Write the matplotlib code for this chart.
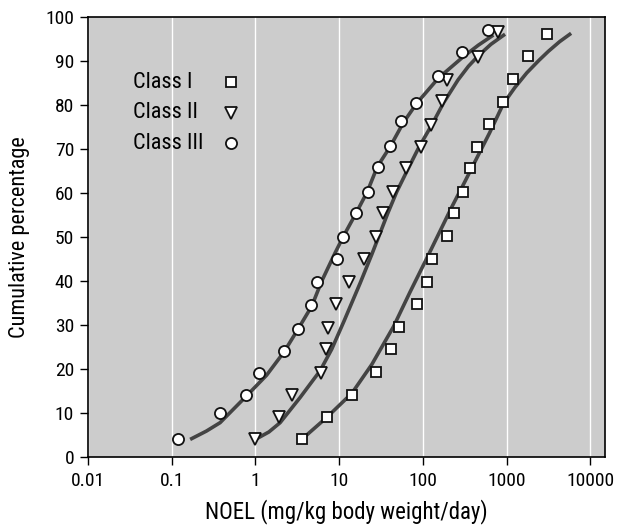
import matplotlib
matplotlib.use("Agg")
import matplotlib.pyplot as plt

plt.rcParams['font.family'] = ['Roboto Condensed', 'Liberation Sans Narrow', 'DejaVu Sans']
plt.rcParams['font.stretch'] = 'condensed'

# Observed NOEL values (mg/kg body weight/day) and cumulative percentages
class1_x = [3.63, 7.2, 14.1, 27.4, 41.7, 52, 86, 111, 130, 196, 236, 305, 366, 440, 624, 916, 1208, 1824, 3020]
class1_y = [4, 9, 14.2, 19.4, 24.5, 29.5, 34.7, 39.8, 45, 50.2, 55.4, 60.2, 65.6, 70.4, 75.6, 80.8, 86, 91.2, 96.1]

class2_x = [1.0, 1.91, 2.71, 6.0, 6.9, 7.4, 9.1, 13.0, 19.7, 27.4, 33.1, 44.5, 62.4, 95, 126, 168, 196, 460, 798]
class2_y = [4, 9.2, 14.2, 19, 24.5, 29.3, 34.7, 39.7, 45.1, 50.1, 55.4, 60.2, 65.6, 70.5, 75.5, 81, 85.8, 91, 96.7]

class3_x = [0.118, 0.38, 0.77, 1.11, 2.2, 3.2, 4.66, 5.5, 9.4, 11.2, 15.8, 22.1, 28.9, 40.6, 55.4, 83, 151, 297, 596]
class3_y = [4, 10, 14, 19, 24, 29, 34.5, 39.7, 45, 50, 55.4, 60.3, 66, 70.7, 76.4, 80.5, 86.6, 92, 97]

# Fitted cumulative distribution curves
fit1_x = [3.57, 7.11, 14.2, 24.5, 44.5, 70.3, 113, 160, 224, 316, 437, 624, 916, 1259, 1742, 2450, 3155, 4300, 5902]
fit1_y = [4.0, 9.0, 14.5, 21.0, 29.6, 37.5, 45.4, 51.3, 57.0, 62.5, 67.8, 73.6, 80.3, 84.0, 87.3, 90.2, 92.2, 94.4, 96.3]

fit2_x = [1.0, 1.45, 1.97, 3.41, 5.92, 8.15, 11.5, 17.8, 24.5, 38.1, 48.8, 64.6, 89.1, 128, 178, 263, 350, 460, 650, 959]
fit2_y = [4.0, 5.7, 7.8, 13.5, 19.6, 24.5, 31.0, 39.5, 46.0, 55.4, 60.3, 65.0, 70.3, 75.5, 80.6, 85.7, 88.8, 91.2, 93.8, 96.1]

fit3_x = [0.166, 0.26, 0.378, 0.766, 1.36, 2.2, 3.26, 4.71, 6.2, 8.9, 11.2, 15.9, 21.7, 28.6, 40.6, 58.5, 84.5, 153, 305, 460, 695]
fit3_y = [4.0, 5.9, 7.8, 13.7, 18.6, 23.9, 29.2, 34.3, 40.0, 46.3, 50.1, 55.4, 60.3, 66.0, 70.5, 76.0, 80.4, 86.1, 91.0, 93.6, 95.9]

labels = ["Class I", "Class II", "Class III"]
markers = ["s", "v", "o"]
x_ticks = [0.01, 0.1, 1, 10, 100, 1000, 10000]
x_tick_labels = ["0.01", "0.1", "1", "10", "100", "1000", "10000"]
y_ticks = list(range(0, 101, 10))

fig = plt.figure(figsize=(6.18, 5.27), dpi=100)
ax = fig.add_axes([0.1424, 0.1328, 0.8366, 0.8349])
ax.set_facecolor("#cccccc")

curve_kw = dict(color="#444444", lw=2.6, solid_capstyle="butt",
                solid_joinstyle="round", zorder=2)
ax.plot(fit1_x, fit1_y, **curve_kw)
ax.plot(fit2_x, fit2_y, **curve_kw)
ax.plot(fit3_x, fit3_y, **curve_kw)

mk_kw = dict(ls="none", mfc="white", mec="#111111", mew=1.3, zorder=3)
sizes = [7.5, 8, 8]
for xs, ys, m, s in zip([class1_x, class2_x, class3_x], [class1_y, class2_y, class3_y], markers, sizes):
    ax.plot(xs, ys, marker=m, ms=s, **mk_kw)

# Key: labels left-aligned, symbols in a column to their right
key_rows = [0.852, 0.7825, 0.7136]
for lab, m, s, yr in zip(labels, markers, sizes, key_rows):
    ax.text(0.087, yr, lab, transform=ax.transAxes, fontsize=16,
            ha="left", va="center")
    ax.plot([0.2766], [yr], transform=ax.transAxes, marker=m, ms=s,
            clip_on=False, **mk_kw)

ax.set_xscale("log")
ax.set_xlim(0.01, 15000)
ax.set_ylim(0, 100)
ax.set_xticks(x_ticks)
ax.set_xticklabels(x_tick_labels)
ax.xaxis.set_minor_locator(matplotlib.ticker.NullLocator())
ax.set_yticks(y_ticks)

ax.grid(axis="x", which="major", color="white", lw=1.0)
ax.set_axisbelow(True)

for s in ax.spines.values():
    s.set_color("black")
    s.set_linewidth(1.2)

ax.tick_params(axis="both", direction="out", length=6, width=1.0, color="black",
               labelsize=14)
ax.tick_params(axis="x", pad=5)
ax.tick_params(axis="y", pad=4)

ax.set_xlabel("NOEL (mg/kg body weight/day)", fontsize=16.5, labelpad=6)
ax.set_ylabel("Cumulative percentage", fontsize=16, labelpad=11)

fig.savefig("out.png", dpi=100)
